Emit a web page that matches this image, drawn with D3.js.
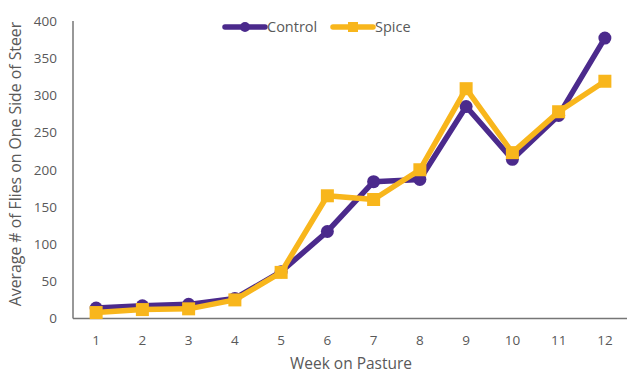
<!DOCTYPE html>
<html>
<head>
<meta charset="utf-8">
<script src="https://cdn.jsdelivr.net/npm/d3@7"></script>
<style>
  html, body { margin: 0; padding: 0; background: #fff; }
  svg text { font-family: "Open Sans", "Noto Sans", sans-serif; fill: #595959; }
</style>
</head>
<body>
<svg id="chart" width="627" height="375"></svg>
<script>
// Average flies per side of steer, by week on pasture
const weeks = [1, 2, 3, 4, 5, 6, 7, 8, 9, 10, 11, 12];
const control = [14, 17, 19, 27, 63, 117, 184, 187, 285, 214, 273, 377];
const spice = [8, 12, 13, 25, 62, 165, 160, 200, 309, 223, 278, 319];
const yTicks = [0, 50, 100, 150, 200, 250, 300, 350, 400];
const seriesNames = ["Control", "Spice"];
const seriesColors = ["#4b2a8c", "#f8b61c"];

const svg = d3.select("#chart");

const x = d3.scaleBand()
  .domain(weeks)
  .range([73, 628])
  .paddingInner(0).paddingOuter(0);
const y = d3.scaleLinear().domain([0, 400]).range([318.5, 21]);

const cx = w => x(w) + x.bandwidth() / 2;

// axes
svg.append("line")
  .attr("x1", 73).attr("x2", 73)
  .attr("y1", y(400)).attr("y2", y(0))
  .attr("stroke", "#767676").attr("stroke-width", 1.5);
svg.append("line")
  .attr("x1", 73).attr("x2", 628)
  .attr("y1", y(0)).attr("y2", y(0))
  .attr("stroke", "#767676").attr("stroke-width", 1.5);

const yAxis = d3.axisLeft(y).tickValues(yTicks).tickSize(0).tickPadding(16);
const gy = svg.append("g").attr("transform", "translate(73,0)").call(yAxis);
gy.select(".domain").remove();
gy.selectAll("text").attr("font-size", 13.5).style("fill", "#595959")
  .attr("font-family", "'Open Sans', sans-serif");

const xAxis = d3.axisBottom(x).tickSize(0).tickPadding(17);
const gx = svg.append("g").attr("transform", `translate(0,${y(0)})`).call(xAxis);
gx.select(".domain").remove();
gx.selectAll("text").attr("font-size", 13.5).style("fill", "#595959")
  .attr("font-family", "'Open Sans', sans-serif");

// axis titles
svg.append("text")
  .attr("transform", "translate(21,164) rotate(-90)")
  .attr("text-anchor", "middle")
  .attr("font-size", 15.8)
  .text("Average # of Flies on One Side of Steer");
svg.append("text")
  .attr("x", 351).attr("y", 369)
  .attr("text-anchor", "middle")
  .attr("font-size", 15.5)
  .text("Week on Pasture");

// series
const series = [control, spice];
const line = d3.line().x((d, i) => cx(weeks[i])).y(d => y(d));

series.forEach((vals, s) => {
  const col = seriesColors[s];
  svg.append("path")
    .datum(vals)
    .attr("d", line)
    .attr("fill", "none")
    .attr("stroke", col)
    .attr("stroke-width", 5.5)
    .attr("stroke-linejoin", "round");
  if (s === 0) {
    svg.selectAll(null).data(vals).enter().append("circle")
      .attr("cx", (d, i) => cx(weeks[i]))
      .attr("cy", d => y(d))
      .attr("r", 6.5)
      .attr("fill", col);
  } else {
    svg.selectAll(null).data(vals).enter().append("rect")
      .attr("x", (d, i) => cx(weeks[i]) - 6.5)
      .attr("y", d => y(d) - 6.5)
      .attr("width", 13).attr("height", 13)
      .attr("fill", col);
  }
});

// legend
const legendX = [225, 333];
seriesNames.forEach((name, s) => {
  const g = svg.append("g").attr("transform", `translate(${legendX[s]},27)`);
  g.append("line").attr("x1", 0).attr("x2", 40).attr("y1", 0).attr("y2", 0)
    .attr("stroke", seriesColors[s]).attr("stroke-width", 5.5).attr("stroke-linecap", "round");
  if (s === 0) {
    g.append("circle").attr("cx", 20).attr("cy", 0).attr("r", 5).attr("fill", seriesColors[s]);
  } else {
    g.append("rect").attr("x", 15).attr("y", -5).attr("width", 10).attr("height", 10).attr("fill", seriesColors[s]);
  }
  g.append("text").attr("x", 42).attr("y", 5).attr("font-size", 14.5).text(name);
});
</script>
</body>
</html>
